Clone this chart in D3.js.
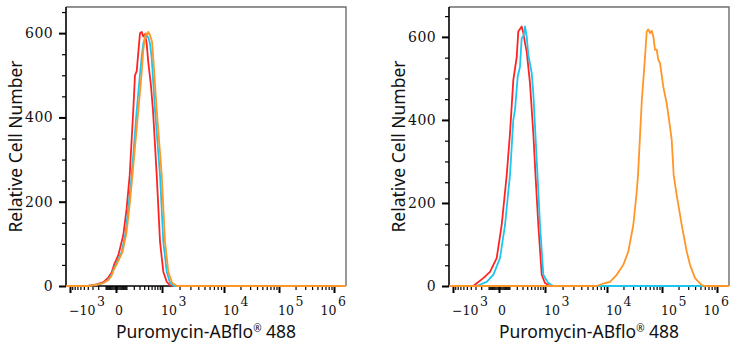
<!DOCTYPE html>
<html>
<head>
<meta charset="utf-8">
<script src="https://cdn.jsdelivr.net/npm/d3@7"></script>
<style>
  body { margin: 0; background: #fff; }
</style>
</head>
<body>
<svg id="chart" width="739" height="350"></svg>
<script>
// histogram traces, [intensity, relative cell number]
const leftRed = [[-1200,0],[-395,0],[-224,4],[-128,9],[-70,20],[-37,32],[-16,50],[19,73],[66,121],[103,184],[141,263],[192,417],[219,500],[248,510],[309,600],[344,603],[379,592],[419,598],[461,575],[504,530],[575,480],[645,417],[777,263],[911,105],[1055,34],[1211,10],[1381,2],[1554,0],[1650000,0]];
const leftCyan = [[-1200,0],[-395,0],[-224,3],[-128,7],[-70,15],[-37,27],[-16,42],[10,58],[50,81],[90,125],[123,184],[169,263],[248,417],[300,490],[340,540],[379,575],[419,590],[461,595],[504,590],[552,575],[604,540],[714,417],[911,263],[1055,105],[1211,34],[1381,8],[1616,0],[1650000,0]];
const leftOrange = [[-1200,0],[-395,0],[-224,3],[-128,7],[-70,14],[-37,25],[-16,40],[10,54],[58,81],[100,125],[136,184],[180,263],[277,417],[340,500],[379,560],[436,600],[470,595],[504,603],[552,595],[613,580],[655,540],[777,417],[987,263],[1131,105],[1291,34],[1494,8],[1814,0],[1650000,0]];

const rightRed = [[-1200,0],[-345,0],[-169,19],[-84,34],[-19,67],[22,147],[53,227],[70,267],[107,368],[149,496],[199,552],[224,613],[284,625],[316,609],[351,585],[388,565],[469,488],[561,368],[629,267],[725,147],[856,27],[1000,7],[1226,0],[1650000,0]];
const rightCyan = [[-1200,0],[-277,0],[-123,10],[-50,27],[8,67],[53,147],[87,227],[107,267],[149,400],[173,424],[214,504],[253,528],[284,597],[316,601],[351,625],[388,601],[426,557],[515,513],[561,464],[696,267],[788,147],[924,27],[1145,7],[1398,0],[1650000,0]];
const rightOrange = [[-1200,0],[6948,0],[8777,6],[11358,10],[15066,27],[19890,51],[24520,83],[30240,147],[34860,227],[36800,267],[43160,448],[45920,496],[49300,552],[52920,613],[56580,618],[60740,609],[65200,615],[69680,601],[74800,569],[80280,569],[85800,545],[92120,537],[105580,480],[121760,440],[139820,384],[150160,352],[163300,267],[185140,219],[228320,147],[281520,83],[323160,51],[398460,19],[527400,2],[605400,0],[1650000,0]];

const xMajorTicks = [-1000, 0, 1e3, 1e4, 1e5, 1e6];
const xTickLabels = [["\u221210", "3"], ["0", ""], ["10", "3"], ["10", "4"], ["10", "5"], ["10", "6"]];
const xMinorTicks = [
  -900, -800, -700, -600, -500, -400, -300, -200, -100,
  -90, -80, -70, -60, -50, -40, -30, -20, -10,
  10, 20, 30, 40, 50, 60, 70, 80, 90,
  100, 200, 300, 400, 500, 600, 700, 800, 900,
  2000, 3000, 4000, 5000, 6000, 7000, 8000, 9000,
  20000, 30000, 40000, 50000, 60000, 70000, 80000, 90000,
  200000, 300000, 400000, 500000, 600000, 700000, 800000, 900000
];
const yMajorTicks = [0, 200, 400, 600];
const yMinorTicks = [50, 100, 150, 250, 300, 350, 450, 500, 550, 650];

const xTitle = "Puromycin-ABflo";
const yTitle = "Relative Cell Number";

const RED = "#ff2424", CYAN = "#1cc6ef", ORANGE = "#ff9626";

// biexponential-ish display transform, then piecewise linear placement
const C = 200;
const tf = v => Math.sign(v) * Math.log10(1 + Math.abs(v) / C);
const majorOffsets = [4, 50, 96, 158, 213, 268];

const plotTop = 7, plotBottom = 286;
const panels = [
  { left: 66, right: 346, yMax: 662,
    series: [[leftRed, RED], [leftCyan, CYAN], [leftOrange, ORANGE]] },
  { left: 449, right: 729, yMax: 672,
    series: [[rightRed, RED], [rightCyan, CYAN], [rightOrange, ORANGE]] }
];

const svg = d3.select("#chart");
const serif = "'DejaVu Serif', serif";
const sans = "'Noto Sans', 'Open Sans', sans-serif";

panels.forEach(p => {
  const x = d3.scaleLinear()
    .domain(xMajorTicks.map(tf))
    .range(majorOffsets.map(o => p.left + o));
  const y = d3.scaleLinear().domain([0, p.yMax]).range([plotBottom, plotTop]);

  // frame (top + right)
  svg.append("path")
    .attr("d", `M${p.left},${plotTop}H${p.right}V${plotBottom}`)
    .attr("fill", "none")
    .attr("stroke", "#6e6e6e")
    .attr("stroke-width", 1.4);

  // y axis
  const gy = svg.append("g").attr("transform", `translate(${p.left},0)`);
  gy.call(d3.axisLeft(y).tickValues(yMinorTicks).tickSize(4).tickSizeOuter(0).tickFormat(""));
  gy.select(".domain").remove();
  gy.selectAll(".tick line").attr("stroke-width", 1.2);
  const gy2 = svg.append("g").attr("transform", `translate(${p.left},0)`);
  gy2.call(d3.axisLeft(y).tickValues(yMajorTicks).tickSize(7).tickSizeOuter(0).tickPadding(6));
  gy2.select(".domain").attr("stroke-width", 1.6).attr("d", `M0,${plotTop}V${plotBottom}`);
  gy2.selectAll(".tick line").attr("stroke-width", 2);
  gy2.selectAll(".tick text")
    .attr("font-family", serif)
    .attr("font-size", 14)
    .attr("letter-spacing", 0.4)
    .attr("fill", "#111");

  // x axis
  const gx = svg.append("g").attr("transform", `translate(0,${plotBottom})`);
  gx.call(d3.axisBottom(x).tickValues(xMinorTicks.map(tf)).tickSize(4).tickFormat(""));
  gx.select(".domain").remove();
  gx.selectAll(".tick line").attr("stroke-width", 1.2);
  const gx2 = svg.append("g").attr("transform", `translate(0,${plotBottom})`);
  gx2.call(d3.axisBottom(x).tickValues(xMajorTicks.map(tf)).tickSize(7).tickFormat(""));
  gx2.select(".domain").remove();
  gx2.selectAll(".tick line").attr("stroke-width", 2);
  svg.append("line")
    .attr("x1", p.left).attr("x2", p.right)
    .attr("y1", plotBottom).attr("y2", plotBottom)
    .attr("stroke", "#000").attr("stroke-width", 1.6);

  // x tick labels with superscript exponents
  xMajorTicks.forEach((v, i) => {
    const [base, sup] = xTickLabels[i];
    const t = svg.append("text")
      .attr("x", x(tf(v)) - 1)
      .attr("y", 315)
      .attr("font-family", serif)
      .attr("font-size", 12.5)
      .attr("fill", "#111");
    t.append("tspan").text(base);
    if (sup) t.append("tspan").attr("dx", 1.5).attr("dy", -9).text(sup);
    const b = t.node().getBBox();
    if (b.x + b.width > p.right) t.attr("x", x(tf(v)) - 1 - (b.x + b.width - p.right));
  });

  // histogram traces
  const line = d3.line().x(d => x(tf(d[0]))).y(d => y(d[1]));
  p.series.forEach(([data, color]) => {
    svg.append("path")
      .datum(data)
      .attr("fill", "none")
      .attr("stroke", color)
      .attr("stroke-width", 1.8)
      .attr("stroke-linejoin", "round")
      .attr("d", line);
  });

  // titles
  const xt = svg.append("text")
    .attr("x", (p.left + p.right) / 2)
    .attr("y", 338)
    .attr("text-anchor", "middle")
    .attr("font-family", sans)
    .attr("font-size", 17.5)
    .attr("fill", "#111");
  xt.append("tspan").text(xTitle);
  xt.append("tspan").attr("font-size", 10).attr("dy", -6).text("\u00AE");
  xt.append("tspan").attr("dy", 6).text(" 488");

  svg.append("text")
    .attr("transform", `translate(${p.left - 51},${(plotTop + plotBottom) / 2}) rotate(-90)`)
    .attr("text-anchor", "middle")
    .attr("dominant-baseline", "central")
    .attr("font-family", sans)
    .attr("font-size", 17.5)
    .attr("fill", "#111")
    .text(yTitle);
});
</script>
</body>
</html>
